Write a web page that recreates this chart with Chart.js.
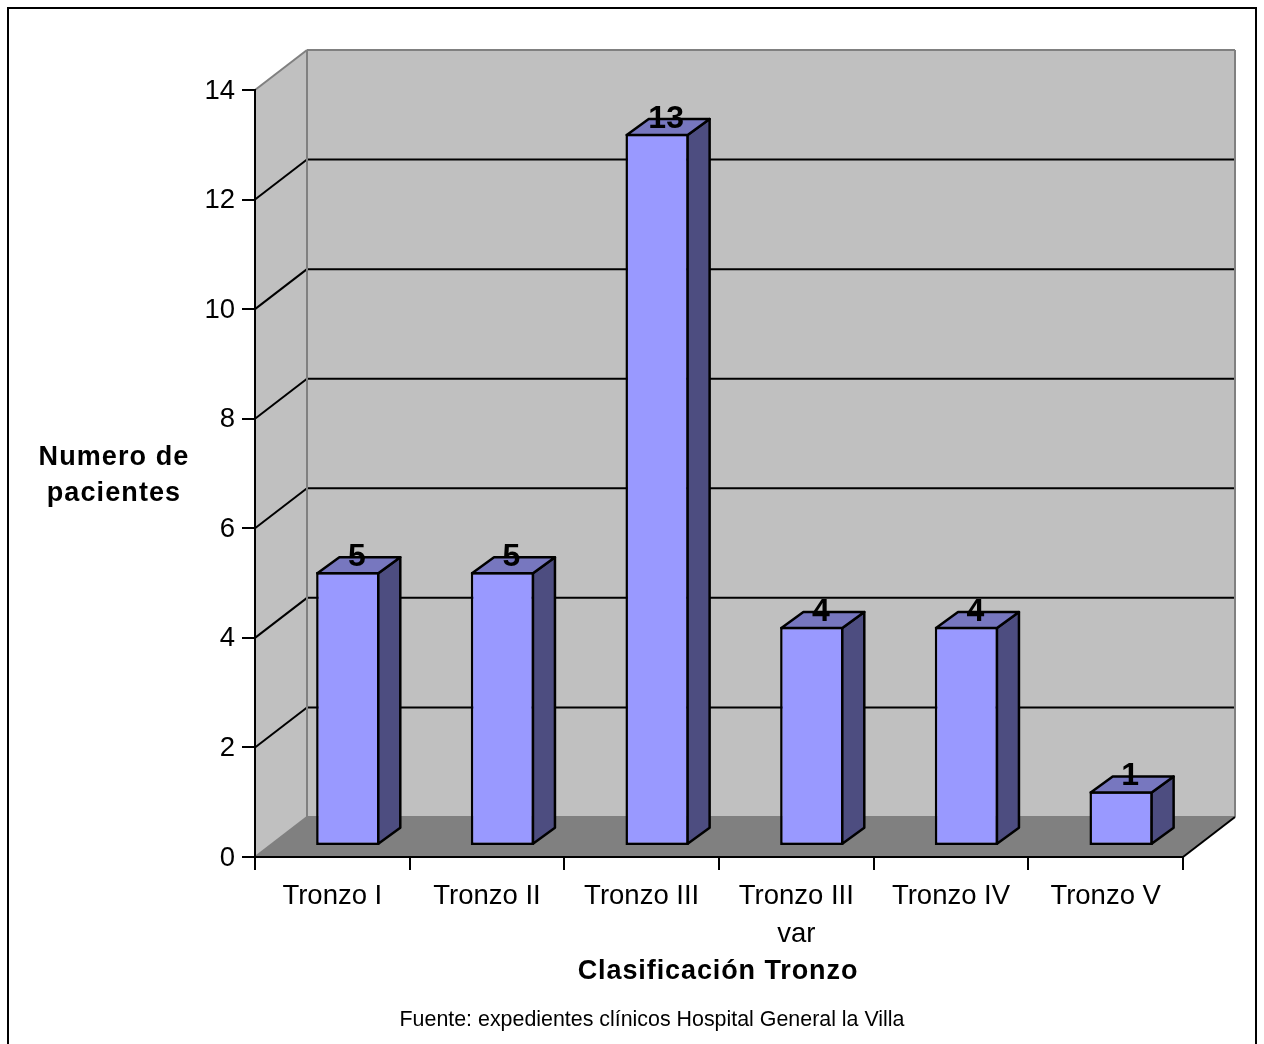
<!DOCTYPE html>
<html>
<head>
<meta charset="utf-8">
<title>Clasificación Tronzo</title>
<script src="https://cdn.jsdelivr.net/npm/chart.js@4"></script>
<style>
  body { margin: 0; background: #fff; }
  canvas { display: block; }
</style>
</head>
<body>
<canvas id="chart" width="1264" height="1044"></canvas>
<script>
// Patients per Tronzo class
const categories = ['Tronzo I', 'Tronzo II', 'Tronzo III', ['Tronzo III', 'var'], 'Tronzo IV', 'Tronzo V'];
const patients = [5, 5, 13, 4, 4, 1];
const yTicks = [0, 2, 4, 6, 8, 10, 12, 14];
const yTitleLines = ['Numero de', 'pacientes'];
const xTitle = 'Clasificación Tronzo';
const sourceNote = 'Fuente: expedientes clínicos Hospital General la Villa';

const FONT = '"Liberation Sans", Arial, sans-serif';

// Depth of the box and of the bars, in pixels
const boxDepth = { x: 52, y: -40 };
const barShift = { x: 15.5, y: -11 };
const barDepth = { x: 22, y: -16 };
const barBorder = 2.5;

function poly(ctx, pts, fill, stroke, width) {
  ctx.beginPath();
  pts.forEach((p, i) => (i ? ctx.lineTo(p[0], p[1]) : ctx.moveTo(p[0], p[1])));
  ctx.closePath();
  if (fill) {
    ctx.fillStyle = fill;
    ctx.fill();
  }
  if (stroke) {
    ctx.strokeStyle = stroke;
    ctx.lineWidth = width;
    ctx.lineJoin = 'round';
    ctx.stroke();
  }
}

function line(ctx, x1, y1, x2, y2, color) {
  ctx.beginPath();
  ctx.moveTo(x1, y1);
  ctx.lineTo(x2, y2);
  ctx.strokeStyle = color;
  ctx.lineWidth = 2;
  ctx.stroke();
}

// Frame, walls, floor and wall gridlines
const boxPlugin = {
  id: 'box3d',
  beforeDraw(chart) {
    const { ctx, chartArea: a, scales: { y } } = chart;
    const dx = boxDepth.x, dy = boxDepth.y;
    ctx.save();
    ctx.strokeStyle = '#000';
    ctx.lineWidth = 2;
    ctx.strokeRect(8, 8, 1248, 1100);

    poly(ctx, [[a.left + dx, a.top + dy], [a.right + dx, a.top + dy], [a.right + dx, a.bottom + dy], [a.left + dx, a.bottom + dy]], '#c0c0c0');
    poly(ctx, [[a.left, a.top], [a.left + dx, a.top + dy], [a.left + dx, a.bottom + dy], [a.left, a.bottom]], '#c0c0c0');
    poly(ctx, [[a.left, a.bottom], [a.left + dx, a.bottom + dy], [a.right + dx, a.bottom + dy], [a.right, a.bottom]], '#808080');

    yTicks.slice(1, -1).forEach(v => {
      const py = y.getPixelForValue(v);
      line(ctx, a.left, py, a.left + dx, py + dy, '#000');
      line(ctx, a.left + dx, py + dy, a.right + dx, py + dy, '#000');
    });

    line(ctx, a.left, a.top, a.left + dx, a.top + dy, '#808080');
    line(ctx, a.left + dx, a.top + dy, a.right + dx, a.top + dy, '#808080');
    line(ctx, a.left + dx, a.top + dy, a.left + dx, a.bottom + dy, '#808080');
    line(ctx, a.right + dx, a.top + dy, a.right + dx, a.bottom + dy, '#808080');
    line(ctx, a.left + dx, a.bottom + dy, a.right + dx, a.bottom + dy, '#808080');
    line(ctx, a.left, a.bottom, a.left + dx, a.bottom + dy, '#808080');
    line(ctx, a.right, a.bottom, a.right + dx, a.bottom + dy, '#000');
    ctx.restore();
  },
  // The bars stand in the middle of the floor, not on the front edge
  beforeDatasetDraw(chart) {
    chart.ctx.save();
    chart.ctx.translate(barShift.x, barShift.y);
  },
  afterDatasetDraw(chart, args) {
    const ctx = chart.ctx;
    const inset = barBorder / 2;
    args.meta.data.forEach(bar => {
      // the library insets the border, so follow its centre line
      const l = bar.x - bar.width / 2 + inset, r = bar.x + bar.width / 2 - inset;
      const top = bar.y + inset, base = bar.base - inset;
      const dx = barDepth.x, dy = barDepth.y;
      poly(ctx, [[r, top], [r + dx, top + dy], [r + dx, base + dy], [r, base]], '#4d4d80', '#000', barBorder);
      poly(ctx, [[l, top], [l + dx, top + dy], [r + dx, top + dy], [r, top]], '#7777bf', '#000', barBorder);
    });
    ctx.restore();
  },
  // Value labels, y tick labels and the free-standing texts
  afterDraw(chart) {
    const { ctx, scales: { y } } = chart;
    ctx.save();
    ctx.fillStyle = '#000';
    ctx.textAlign = 'right';
    ctx.textBaseline = 'middle';

    ctx.font = '27.5px ' + FONT;
    yTicks.forEach(v => ctx.fillText(v, 235, y.getPixelForValue(v) + 1));

    ctx.textAlign = 'center';
    ctx.font = 'bold 32px ' + FONT;
    chart.getDatasetMeta(0).data.forEach((bar, i) => {
      ctx.fillText(patients[i], bar.x + barShift.x + 9, bar.y + barShift.y - 15);
    });

    ctx.font = 'bold 27px ' + FONT;
    ctx.letterSpacing = '1.1px';
    yTitleLines.forEach((t, i) => ctx.fillText(t, 114, 458 + i * 36));
    ctx.letterSpacing = '0.9px';
    ctx.fillText(xTitle, 718, 972);

    ctx.letterSpacing = '0px';
    ctx.font = '21.4px ' + FONT;
    ctx.fillText(sourceNote, 652, 1020);
    ctx.restore();
  }
};

new Chart(document.getElementById('chart'), {
  type: 'bar',
  data: {
    labels: categories,
    datasets: [{
      label: 'Numero de pacientes',
      data: patients,
      backgroundColor: '#9999ff',
      borderColor: '#000',
      borderWidth: barBorder,
      borderSkipped: false,
      barPercentage: 0.41,
      categoryPercentage: 1
    }]
  },
  options: {
    responsive: false,
    animation: false,
    layout: { padding: { top: 90, right: 81, left: 0, bottom: 0 } },
    plugins: { legend: { display: false }, tooltip: { enabled: false } },
    scales: {
      x: {
        afterFit(scale) { scale.height = 187; },
        grid: { drawOnChartArea: false, color: '#000', lineWidth: 2, tickLength: 13 },
        border: { color: '#000', width: 2 },
        ticks: { color: '#000', font: { family: FONT, size: 27.5, lineHeight: 1.36 }, padding: 8, maxRotation: 0, autoSkip: false }
      },
      y: {
        min: 0,
        max: 14,
        afterFit(scale) { scale.width = 255; },
        afterBuildTicks(scale) { scale.ticks = yTicks.map(value => ({ value })); },
        grid: { drawOnChartArea: false, color: '#000', lineWidth: 2, tickLength: 13 },
        border: { color: '#000', width: 2 },
        ticks: { display: false }
      }
    }
  },
  plugins: [boxPlugin]
});
</script>
</body>
</html>
